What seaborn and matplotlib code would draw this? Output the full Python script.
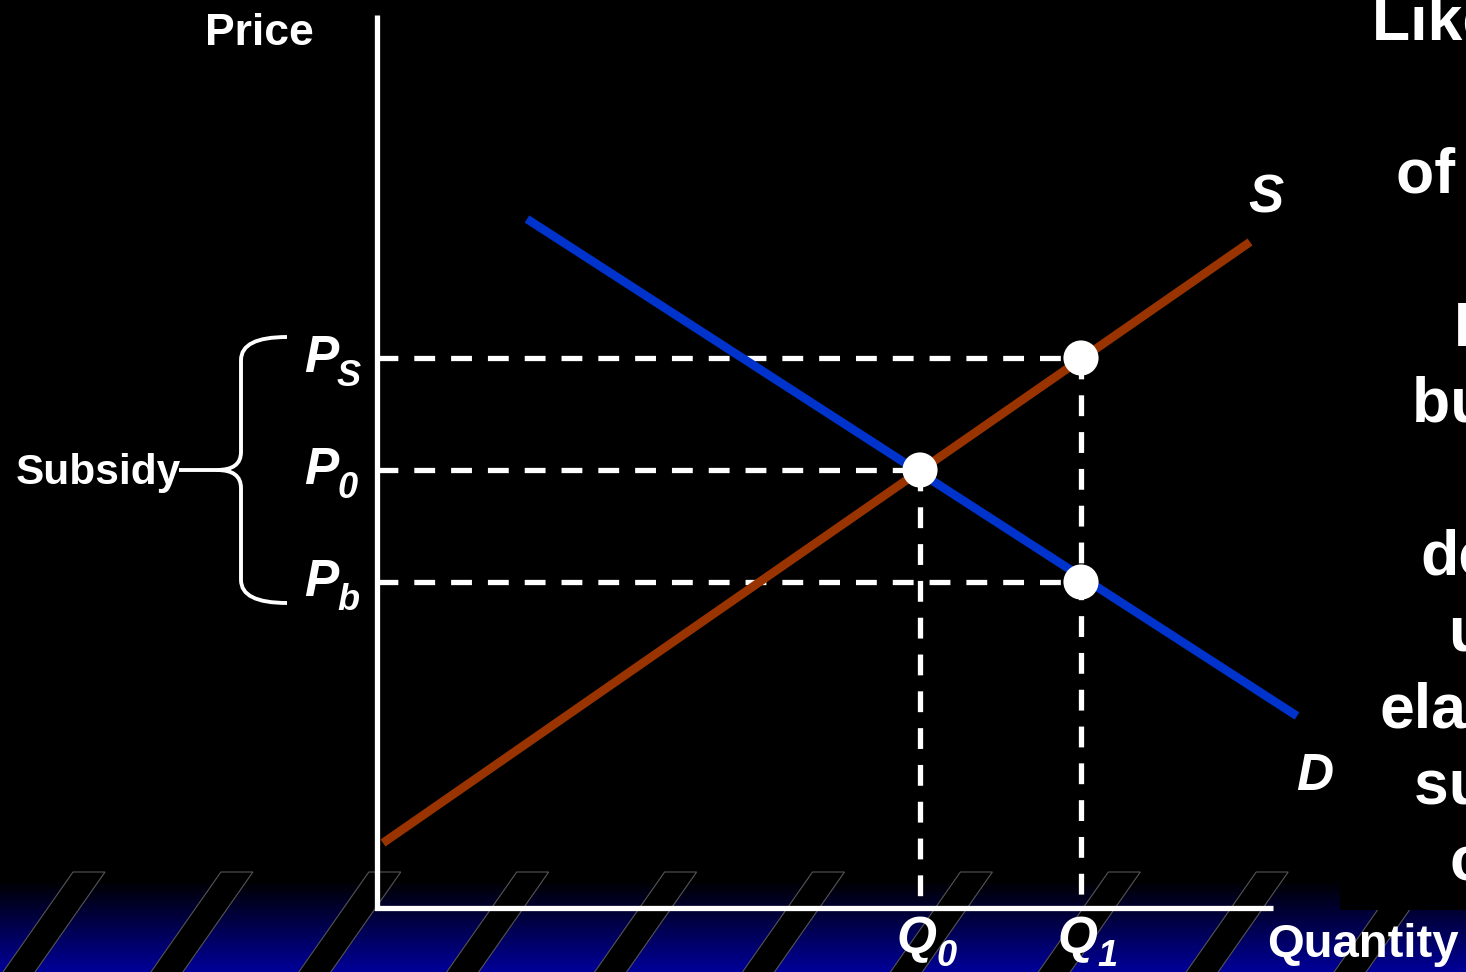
import numpy as np
import matplotlib
matplotlib.use("Agg")
import matplotlib.pyplot as plt
from matplotlib.patches import Polygon, Rectangle, PathPatch
from matplotlib.path import Path
import seaborn as sns

# Supply and demand curves (quantity, price) at their drawn ends
supply_q = [0.06, 8.73]
supply_p = [0.65, 6.66]
demand_q = [1.50, 9.20]
demand_p = [6.89, 1.92]

# Market outcome before and after the subsidy
q0, q1 = 5.43, 7.04
p_seller, p0, p_buyer = 5.50, 4.38, 3.26

price_subscripts = ["S", "0", "b"]
quantity_subscripts = ["0", "1"]

# Side text, one entry per line of the paragraph
side_lines = ["Like a tax,", "of a subsidy", "Benefits are", "buyers and",
              "depending", "upon", "elasticities", "supply and", "curves"]
side_rows = [0, 2, 4, 5, 7, 8, 9, 10, 11]
side_left = [9.95, 10.19, 10.77, 10.35, 10.43, 10.71, 10.03, 10.37, 10.72]

sns.set_style("white")
plt.rcParams["font.family"] = ["Liberation Sans", "DejaVu Sans"]
plt.rcParams["lines.scale_dashes"] = False

fig = plt.figure(figsize=(14.66, 9.72), dpi=100, facecolor="black")
ax = fig.add_axes([0, 0, 1, 1])
ax.set_facecolor("black")
X0, X1, Y0, Y1 = -3.77, 10.89, -0.64, 9.08

# Blue footer band with slanted stripes
band_top = 0.28
shade = np.linspace(0, 1, 256)[:, None]
rgb = np.zeros((256, 1, 3))
rgb[..., 2] = 0.60 * shade
ax.imshow(rgb, extent=[X0, X1, Y0, band_top], aspect="auto", origin="upper",
          interpolation="bilinear", zorder=0)
stripe_top, stripe_w, lean = 0.36, 0.32, 0.742
for k in range(11):
    left = -3.04 + 1.479 * k
    ax.add_patch(Polygon([(left, stripe_top), (left + stripe_w, stripe_top),
                          (left + stripe_w - lean, -0.70), (left - lean, -0.70)],
                         closed=True, facecolor="black", edgecolor="#555555",
                         lw=0.8, zorder=1))
ax.add_patch(Rectangle((9.63, -0.02), 3.0, 10.0, facecolor="black",
                       edgecolor="none", zorder=2))

# Axes
ax.plot([0, 0, 8.96], [8.93, 0, 0], color="white", lw=3.8,
        solid_joinstyle="miter", solid_capstyle="butt", zorder=5)

# Guide lines to the axes
dash = dict(color="white", lw=3.8, linestyle=(0, (15, 11.5)), zorder=3)
ax.plot([0, q1], [p_seller, p_seller], **dash)
ax.plot([0, q0], [p0, p0], **dash)
ax.plot([0, q1], [p_buyer, p_buyer], **dash)
ax.plot([q0, q0], [p0, 0], **dash)
ax.plot([q1, q1], [p_seller, 0], **dash)

# Curves
sns.lineplot(x=supply_q, y=supply_p, color="#993300", lw=6.2, ax=ax,
             solid_capstyle="butt", zorder=4)
sns.lineplot(x=demand_q, y=demand_p, color="#0033CC", lw=6.2, ax=ax,
             solid_capstyle="butt", zorder=4)

# Points
sns.scatterplot(x=[q0, q1, q1], y=[p0, p_seller, p_buyer], s=640,
                color="white", edgecolor="none", ax=ax, zorder=6)

bold = dict(color="white", fontweight="bold", va="baseline", zorder=8)
ital = dict(color="white", fontweight="bold", fontstyle="italic",
            va="baseline", zorder=8)

ax.text(-1.72, 8.63, "Price", fontsize=32, ha="left", **bold)
ax.text(8.90, -0.49, "Quantity", fontsize=34, ha="left", **bold)
ax.text(-3.61, 4.24, "Subsidy", fontsize=30.5, ha="left", **bold)
ax.text(8.71, 6.96, "S", fontsize=38, ha="left", **ital)
ax.text(9.19, 1.18, "D", fontsize=37, ha="left", **ital)

for level, sub in zip([p_seller, p0, p_buyer], price_subscripts):
    ax.text(-0.73, level - 0.14, "P", fontsize=37, ha="left", **ital)
    ax.text(-0.40, level - 0.275, sub, fontsize=26, ha="left", **ital)

for qv, sub in zip([q0, q1], quantity_subscripts):
    ax.text(qv - 0.24, -0.45, "Q", fontsize=37, ha="left", **ital)
    ax.text(qv + 0.16, -0.575, sub, fontsize=26, ha="left", **ital)

for row, left, line in zip(side_rows, side_left, side_lines):
    ax.text(left, 8.68 - 0.764 * row, line, fontsize=45, ha="left",
            clip_on=False, **bold)

# Brace spanning the seller and buyer prices
bx, tip_x, end_x, stem_x = -1.36, -1.60, -0.90, -1.98
top, bot = p_seller + 0.21, p_buyer - 0.21
verts = [(end_x, top), (bx, top), (bx, top - 0.23),
         (bx, p0 + 0.18), (bx, p0), (tip_x, p0),
         (stem_x, p0),
         (tip_x, p0), (bx, p0), (bx, p0 - 0.18),
         (bx, bot + 0.23), (bx, bot), (end_x, bot)]
codes = [Path.MOVETO, Path.CURVE3, Path.CURVE3,
         Path.LINETO, Path.CURVE3, Path.CURVE3,
         Path.LINETO,
         Path.MOVETO, Path.CURVE3, Path.CURVE3,
         Path.LINETO, Path.CURVE3, Path.CURVE3]
ax.add_patch(PathPatch(Path(verts, codes), facecolor="none", edgecolor="white",
                       lw=2.8, zorder=7, capstyle="butt"))

ax.set_xlim(X0, X1)
ax.set_ylim(Y0, Y1)
ax.set_axis_off()

fig.savefig("out.png", dpi=100, facecolor="black")
